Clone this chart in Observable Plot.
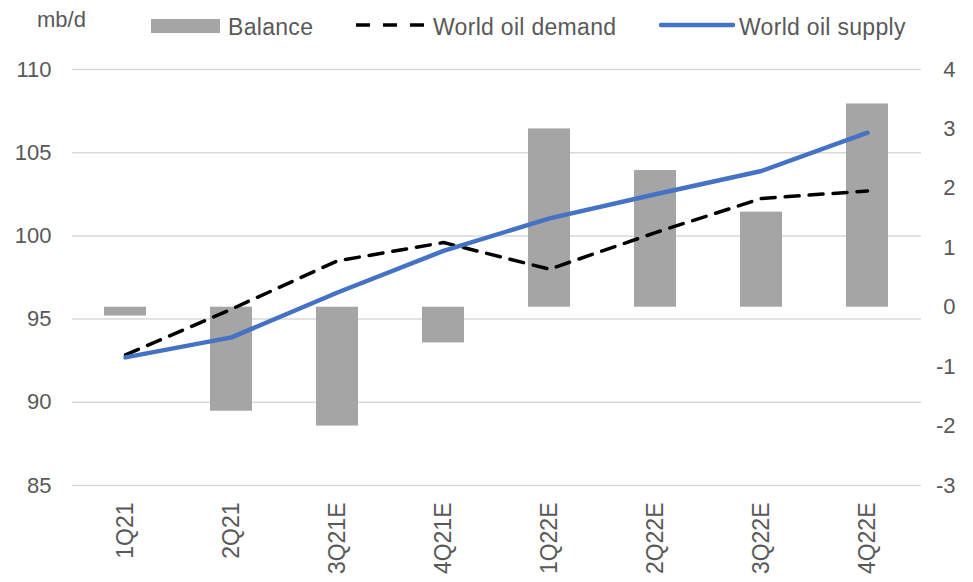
<!DOCTYPE html>
<html><head><meta charset="utf-8">
<script src="https://cdn.jsdelivr.net/npm/d3@7"></script>
<script src="https://cdn.jsdelivr.net/npm/@observablehq/plot@0.6"></script>
<style>
body{margin:0;width:973px;height:582px;overflow:hidden;background:#fff;font-family:"Liberation Sans",Arial,sans-serif;color:#595959;position:relative}
#legend{position:relative;height:50px}
#legend span{position:absolute;font-size:23px;line-height:1;white-space:nowrap}
#legend svg{position:absolute}
</style></head><body>
<div id="legend">
<span style="left:37px;top:9px;font-size:22px">mb/d</span>
<span style="left:151px;top:19px;width:69px;height:14px;background:#a5a5a5"></span>
<span style="left:228px;top:16px;letter-spacing:0.3px">Balance</span>
<svg style="left:354px;top:20px" width="76" height="10"><line x1="2" x2="73" y1="5" y2="5" stroke="#000" stroke-width="3.5" stroke-dasharray="14,13"/></svg>
<span style="left:433px;top:16px;letter-spacing:0.3px">World oil demand</span>
<svg style="left:657px;top:20px" width="80" height="10"><line x1="4" x2="76" y1="5" y2="5" stroke="#4472c4" stroke-width="4.5" stroke-linecap="round"/></svg>
<span style="left:739px;top:16px;letter-spacing:0.3px">World oil supply</span>
</div>
<div id="chart"></div>
<script>
const quarters = ["1Q21","2Q21","3Q21E","4Q21E","1Q22E","2Q22E","3Q22E","4Q22E"];
const balance = [-0.15,-1.75,-2.0,-0.6,3.0,2.3,1.6,3.42];
const demand = [92.85,95.6,98.5,99.6,98.0,100.2,102.25,102.7];
const supply = [92.7,93.9,96.6,99.1,101.05,102.5,103.9,106.2];
const leftTicks = [85,90,95,100,105,110];
const rightTicks = [-3,-2,-1,0,1,2,3,4];

// map secondary (balance) axis onto primary scale: -3..4 -> 85..110
const toLeft = b => 85 + (b + 3) * 25 / 7;
const fromLeft = v => (v - 85) * 7 / 25 - 3;

const rows = quarters.map((q, i) => ({q, b: balance[i], d: demand[i], s: supply[i]}));

const chart = Plot.plot({
  width: 973,
  height: 532,
  marginTop: 19,
  marginBottom: 97,
  marginLeft: 72,
  marginRight: 52,
  style: {fontFamily: "Liberation Sans, Arial, sans-serif", fontSize: "22px", color: "#595959", background: "#fff"},
  x: {domain: quarters, paddingInner: 0.6, paddingOuter: 0.3, label: null},
  y: {domain: [85, 110], label: null},
  marks: [
    Plot.gridY(leftTicks, {stroke: "#d9d9d9", strokeOpacity: 1, strokeWidth: 1.5}),
    Plot.barY(rows, {x: "q", y1: () => toLeft(0), y2: d => toLeft(d.b), fill: "#a5a5a5"}),
    Plot.line(rows, {x: "q", y: "d", stroke: "#000", strokeWidth: 3.5, strokeDasharray: "14,10"}),
    Plot.line(rows, {x: "q", y: "s", stroke: "#4472c4", strokeWidth: 4.5, strokeLinecap: "round", strokeLinejoin: "round"}),
    Plot.axisY(leftTicks, {anchor: "left", tickSize: 0, tickPadding: 21, fontSize: 22, label: null}),
    Plot.axisY(rightTicks.map(toLeft), {anchor: "right", tickSize: 0, tickPadding: 34, textAnchor: "end", fontSize: 22, label: null,
      tickFormat: v => String(Math.round(fromLeft(v)))}),
    Plot.axisX({tickRotate: -90, tickSize: 0, tickPadding: 17, fontSize: 23, label: null})
  ]
});
document.getElementById("chart").appendChild(chart);
</script>
</body></html>
